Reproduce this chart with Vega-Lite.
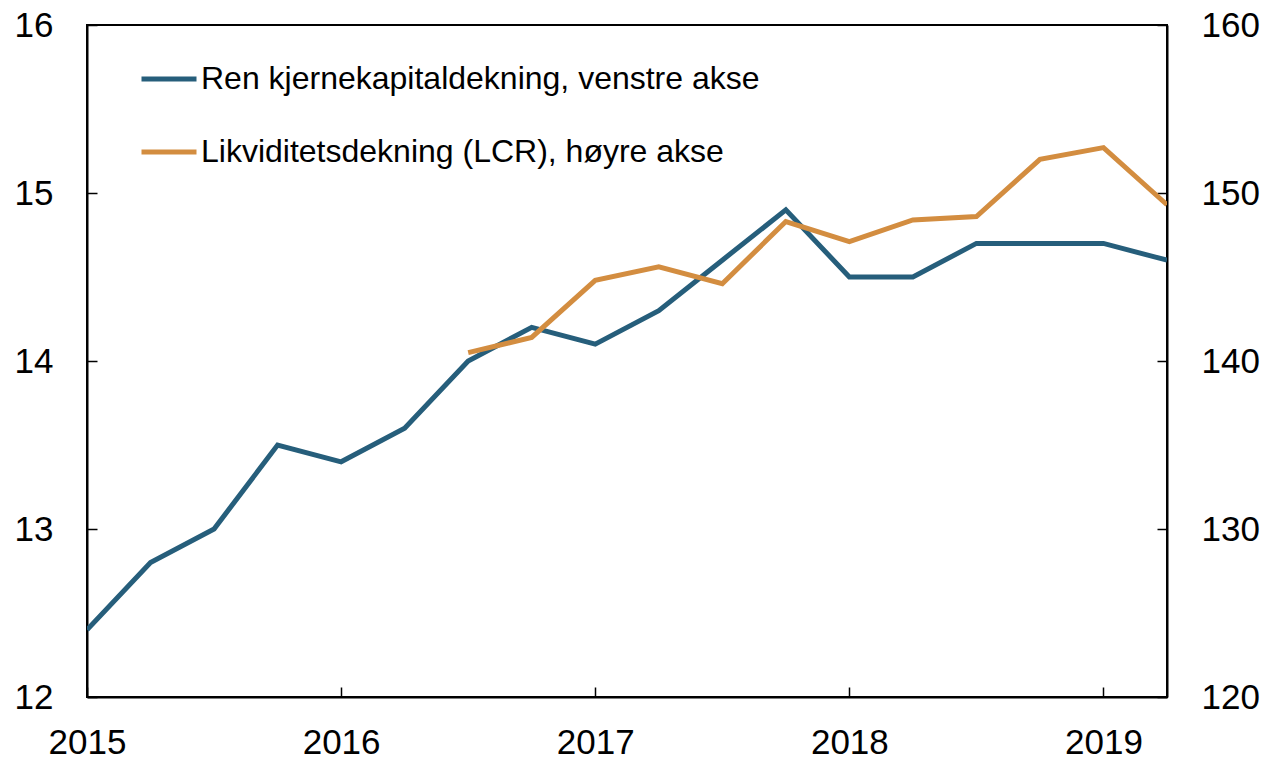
{
  "$schema": "https://vega.github.io/schema/vega-lite/v6.json",
  "autosize": {"type": "none"},
  "padding": {"left": 87, "top": 25, "right": 102, "bottom": 64},
  "width": 1080,
  "height": 672,
  "config": {
    "font": "Liberation Sans",
    "view": {"stroke": "#000000", "strokeWidth": 2},
    "axis": {
      "domainColor": "#000000",
      "domainWidth": 2,
      "tickColor": "#000000",
      "tickWidth": 1.5,
      "tickSize": -10,
      "labelFont": "Liberation Sans",
      "labelFontSize": 35,
      "labelColor": "#000000",
      "grid": false,
      "title": null
    }
  },
  "data": {
    "values": [
      {"t": 2015.0, "series": "Ren kjernekapitaldekning, venstre akse", "value": 12.4},
      {"t": 2015.25, "series": "Ren kjernekapitaldekning, venstre akse", "value": 12.8},
      {"t": 2015.5, "series": "Ren kjernekapitaldekning, venstre akse", "value": 13.0},
      {"t": 2015.75, "series": "Ren kjernekapitaldekning, venstre akse", "value": 13.5},
      {"t": 2016.0, "series": "Ren kjernekapitaldekning, venstre akse", "value": 13.4},
      {"t": 2016.25, "series": "Ren kjernekapitaldekning, venstre akse", "value": 13.6},
      {"t": 2016.5, "series": "Ren kjernekapitaldekning, venstre akse", "value": 14.0},
      {"t": 2016.75, "series": "Ren kjernekapitaldekning, venstre akse", "value": 14.2},
      {"t": 2017.0, "series": "Ren kjernekapitaldekning, venstre akse", "value": 14.1},
      {"t": 2017.25, "series": "Ren kjernekapitaldekning, venstre akse", "value": 14.3},
      {"t": 2017.5, "series": "Ren kjernekapitaldekning, venstre akse", "value": 14.6},
      {"t": 2017.75, "series": "Ren kjernekapitaldekning, venstre akse", "value": 14.9},
      {"t": 2018.0, "series": "Ren kjernekapitaldekning, venstre akse", "value": 14.5},
      {"t": 2018.25, "series": "Ren kjernekapitaldekning, venstre akse", "value": 14.5},
      {"t": 2018.5, "series": "Ren kjernekapitaldekning, venstre akse", "value": 14.7},
      {"t": 2018.75, "series": "Ren kjernekapitaldekning, venstre akse", "value": 14.7},
      {"t": 2019.0, "series": "Ren kjernekapitaldekning, venstre akse", "value": 14.7},
      {"t": 2019.25, "series": "Ren kjernekapitaldekning, venstre akse", "value": 14.6},
      {"t": 2016.5, "series": "Likviditetsdekning (LCR), høyre akse", "value": 140.5},
      {"t": 2016.75, "series": "Likviditetsdekning (LCR), høyre akse", "value": 141.4},
      {"t": 2017.0, "series": "Likviditetsdekning (LCR), høyre akse", "value": 144.8},
      {"t": 2017.25, "series": "Likviditetsdekning (LCR), høyre akse", "value": 145.6},
      {"t": 2017.5, "series": "Likviditetsdekning (LCR), høyre akse", "value": 144.6},
      {"t": 2017.75, "series": "Likviditetsdekning (LCR), høyre akse", "value": 148.3},
      {"t": 2018.0, "series": "Likviditetsdekning (LCR), høyre akse", "value": 147.1},
      {"t": 2018.25, "series": "Likviditetsdekning (LCR), høyre akse", "value": 148.4},
      {"t": 2018.5, "series": "Likviditetsdekning (LCR), høyre akse", "value": 148.6},
      {"t": 2018.75, "series": "Likviditetsdekning (LCR), høyre akse", "value": 152.0},
      {"t": 2019.0, "series": "Likviditetsdekning (LCR), høyre akse", "value": 152.7},
      {"t": 2019.25, "series": "Likviditetsdekning (LCR), høyre akse", "value": 149.3}
    ]
  },
  "encoding": {
    "x": {
      "field": "t",
      "type": "quantitative",
      "scale": {"domain": [2015, 2019.25], "nice": false, "zero": false},
      "axis": {"values": [2015, 2016, 2017, 2018, 2019], "format": "d", "labelFlush": false, "labelPadding": 38}
    },
    "color": {
      "field": "series",
      "type": "nominal",
      "scale": {
        "domain": ["Ren kjernekapitaldekning, venstre akse", "Likviditetsdekning (LCR), høyre akse"],
        "range": ["#265E7B", "#D38D40"]
      },
      "legend": {
        "title": null,
        "orient": "none",
        "legendX": 52,
        "legendY": 24,
        "padding": 0,
        "symbolType": "stroke",
        "symbolSize": 3025,
        "symbolStrokeWidth": 5,
        "labelFontSize": 32,
        "labelFont": "Liberation Sans",
        "labelColor": "#000000",
        "labelOffset": 2,
        "labelLimit": 1000,
        "rowPadding": 27
      }
    }
  },
  "layer": [
    {
      "transform": [{"filter": "datum.series === 'Ren kjernekapitaldekning, venstre akse'"}],
      "mark": {"type": "line", "strokeWidth": 5, "clip": true},
      "encoding": {
        "y": {
          "field": "value",
          "type": "quantitative",
          "scale": {"domain": [12, 16], "nice": false, "zero": false},
          "axis": {"orient": "left", "values": [12, 13, 14, 15, 16], "labelPadding": 44}
        }
      }
    },
    {
      "transform": [{"filter": "datum.series === 'Likviditetsdekning (LCR), høyre akse'"}],
      "mark": {"type": "line", "strokeWidth": 5, "clip": true},
      "encoding": {
        "y": {
          "field": "value",
          "type": "quantitative",
          "scale": {"domain": [120, 160], "nice": false, "zero": false},
          "axis": {"orient": "right", "values": [120, 130, 140, 150, 160], "labelPadding": 44}
        }
      }
    }
  ],
  "resolve": {"scale": {"y": "independent"}}
}
